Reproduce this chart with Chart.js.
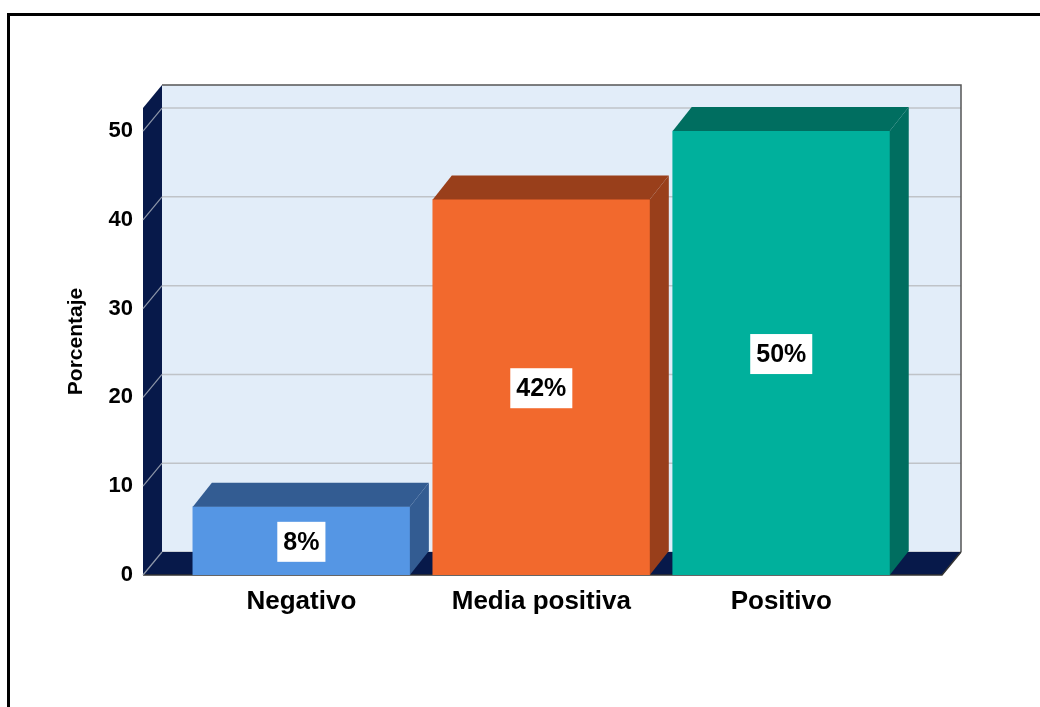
<!DOCTYPE html>
<html>
<head>
<meta charset="utf-8">
<script src="https://cdn.jsdelivr.net/npm/chart.js@4.4.0/dist/chart.umd.min.js"></script>
<style>
  html, body { margin: 0; padding: 0; background: #fff; }
  canvas { display: block; }
</style>
</head>
<body>
<canvas id="chart" width="1040" height="707"></canvas>
<script>
// datos
var categories = ['Negativo', 'Media positiva', 'Positivo'];
var values = [7.7, 42.3, 50];
var yTicks = [0, 10, 20, 30, 40, 50];

var frontColors = ['#5596e4', '#f2692d', '#00b09c'];
var darkColors = ['#335c92', '#993f1b', '#006e60'];

// profundidad 3D
var DX = 19, DY = -23;
var BAR_DY = -24;

var box3d = {
  id: 'box3d',
  beforeDraw: function (chart) {
    var ctx = chart.ctx;
    ctx.save();
    ctx.fillStyle = '#fff';
    ctx.fillRect(0, 0, chart.width, chart.height);
    // marco
    ctx.strokeStyle = '#000';
    ctx.lineWidth = 3;
    ctx.beginPath();
    ctx.moveTo(8.5, chart.height + 5);
    ctx.lineTo(8.5, 14.5);
    ctx.lineTo(chart.width + 5, 14.5);
    ctx.stroke();
    ctx.restore();
  },
  beforeDatasetsDraw: function (chart) {
    var ctx = chart.ctx;
    var a = chart.chartArea;
    var y = chart.scales.y;
    ctx.save();
    // pared del fondo
    ctx.fillStyle = '#e2edf9';
    ctx.fillRect(a.left + DX, a.top + DY, a.right - a.left, a.bottom - a.top);
    // lineas de la cuadricula
    yTicks.forEach(function (v) {
      var py = y.getPixelForValue(v);
      ctx.strokeStyle = '#bfc3c8';
      ctx.lineWidth = 1.5;
      ctx.beginPath();
      ctx.moveTo(a.left + DX, py + DY);
      ctx.lineTo(a.right + DX, py + DY);
      ctx.stroke();
    });
    // borde de la pared
    ctx.strokeStyle = '#555';
    ctx.lineWidth = 1.5;
    ctx.beginPath();
    ctx.moveTo(a.left + DX, a.top + DY);
    ctx.lineTo(a.right + DX, a.top + DY);
    ctx.lineTo(a.right + DX, a.bottom + DY);
    ctx.stroke();
    // pared izquierda
    ctx.fillStyle = '#07194a';
    ctx.beginPath();
    ctx.moveTo(a.left, a.top);
    ctx.lineTo(a.left + DX, a.top + DY);
    ctx.lineTo(a.left + DX, a.bottom + DY);
    ctx.lineTo(a.left, a.bottom);
    ctx.closePath();
    ctx.fill();
    // piso
    ctx.beginPath();
    ctx.moveTo(a.left, a.bottom);
    ctx.lineTo(a.left + DX, a.bottom + DY);
    ctx.lineTo(a.right + DX, a.bottom + DY);
    ctx.lineTo(a.right, a.bottom);
    ctx.closePath();
    ctx.fill();
    ctx.strokeStyle = '#333';
    ctx.lineWidth = 1.5;
    ctx.beginPath();
    ctx.moveTo(a.left, a.bottom);
    ctx.lineTo(a.right, a.bottom);
    ctx.lineTo(a.right + DX, a.bottom + DY);
    ctx.stroke();
    // lineas diagonales
    yTicks.forEach(function (v) {
      var py = y.getPixelForValue(v);
      ctx.strokeStyle = '#8d96a8';
      ctx.lineWidth = 1.2;
      ctx.beginPath();
      ctx.moveTo(a.left, py);
      ctx.lineTo(a.left + DX, py + DY);
      ctx.stroke();
    });
    ctx.restore();
  },
  afterDatasetsDraw: function (chart) {
    var ctx = chart.ctx;
    var meta = chart.getDatasetMeta(0);
    ctx.save();
    meta.data.forEach(function (bar, i) {
      var xl = bar.x - bar.width / 2, xr = bar.x + bar.width / 2;
      var top = bar.y, base = bar.base;
      ctx.fillStyle = darkColors[i];
      // cara superior
      ctx.beginPath();
      ctx.moveTo(xl, top);
      ctx.lineTo(xl + DX, top + BAR_DY);
      ctx.lineTo(xr + DX, top + BAR_DY);
      ctx.lineTo(xr, top);
      ctx.closePath();
      ctx.fill();
      // cara lateral
      ctx.beginPath();
      ctx.moveTo(xr, top);
      ctx.lineTo(xr + DX, top + BAR_DY);
      ctx.lineTo(xr + DX, base + BAR_DY);
      ctx.lineTo(xr, base);
      ctx.closePath();
      ctx.fill();

      // etiqueta
      var txt = Math.round(values[i]) + '%';
      ctx.font = 'bold 25px "Liberation Sans", Arial, sans-serif';
      var w = ctx.measureText(txt).width + 12;
      var h = 40;
      var cy = (top + base) / 2 + 1;
      ctx.fillStyle = '#fff';
      ctx.fillRect(bar.x - w / 2, cy - h / 2, w, h);
      ctx.fillStyle = '#000';
      ctx.textAlign = 'center';
      ctx.textBaseline = 'middle';
      ctx.fillText(txt, bar.x, cy + 1);
    });
    ctx.restore();
  }
};

new Chart(document.getElementById('chart'), {
  type: 'bar',
  data: {
    datasets: [{
      data: categories.map(function (c, i) { return { x: i, y: values[i] }; }),
      backgroundColor: frontColors,
      borderWidth: 0,
      barThickness: 217
    }]
  },
  options: {
    responsive: false,
    animation: false,
    layout: { padding: { left: 0, top: 108, right: 98, bottom: 0 } },
    plugins: { legend: { display: false }, tooltip: { enabled: false } },
    scales: {
      x: {
        type: 'linear',
        offset: false,
        min: -0.66,
        max: 2.67,
        grid: { display: false, drawTicks: false, offset: false },
        border: { display: false },
        afterBuildTicks: function (scale) {
          scale.ticks = categories.map(function (c, i) { return { value: i }; });
        },
        afterFit: function (scale) { scale.height = 132; },
        ticks: {
          padding: 11,
          color: '#000',
          font: { family: '"Liberation Sans", Arial, sans-serif', size: 26, weight: 'bold' },
          callback: function (v) { return categories[v]; }
        }
      },
      y: {
        min: 0,
        max: 52.6,
        grid: { display: false, drawTicks: false },
        border: { display: false },
        afterBuildTicks: function (scale) {
          scale.ticks = yTicks.map(function (v) { return { value: v }; });
        },
        afterFit: function (scale) { scale.width = 143; },
        ticks: {
          padding: 10,
          color: '#000',
          font: { family: '"Liberation Sans", Arial, sans-serif', size: 22, weight: 'bold' }
        },
        title: {
          display: true,
          text: 'Porcentaje',
          color: '#000',
          padding: { top: 64, bottom: 0 },
          font: { family: '"Liberation Sans", Arial, sans-serif', size: 21, weight: 'bold' }
        }
      }
    }
  },
  plugins: [box3d]
});
</script>
</body>
</html>
